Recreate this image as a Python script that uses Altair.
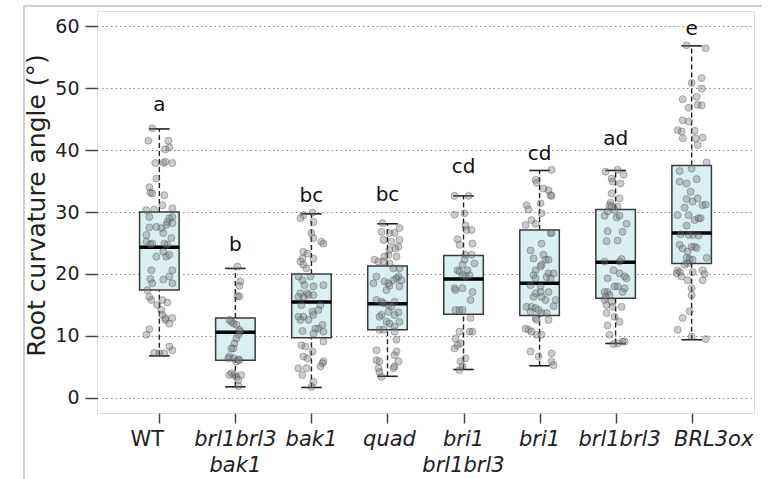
import altair as alt
import pandas as pd

# ---------------- data ----------------
line1 = ["WT", "brl1brl3", "bak1", "quad", "bri1", "bri1", "brl1brl3", "BRL3ox"]
line2 = ["", "bak1", "", "", "brl1brl3", "", "", ""]
italic = [False, True, True, True, True, True, True, True]
label_nudge = [-12, 0, 0, 2, 0, 0, 4, 22]

lower = [6.8, 1.8, 1.7, 3.5, 4.6, 5.2, 8.8, 9.4]
q1 = [17.4, 6.1, 9.7, 11.0, 13.5, 13.3, 16.1, 21.7]
median = [24.3, 10.6, 15.5, 15.2, 19.2, 18.5, 21.9, 26.6]
q3 = [30.0, 12.9, 20.0, 21.3, 23.0, 27.1, 30.4, 37.5]
upper = [43.4, 20.9, 29.7, 28.1, 32.6, 36.7, 36.7, 56.8]

letters = ["a", "b", "bc", "bc", "cd", "cd", "ad", "e"]
letter_y = [47.3, 24.7, 32.6, 32.7, 37.3, 39.4, 41.7, 59.5]

# jittered observations: (horizontal jitter in px, value)
pts_wt = [(-7, 43.5), (-11, 41.5), (9, 41.5), (6, 40.1), (10, 40.4), (-4, 37.9), (4, 37.9), (6, 38.1),
          (13, 37.9), (-3, 35.4), (-10, 34.0), (-9, 33.1), (-7, 33.0), (5, 32.7), (3, 31.1), (-13, 30.3),
          (-5, 30.4), (13, 30.6), (-10, 29.2), (10, 29.0), (13, 29.2), (8, 28.4), (7, 27.9), (-3, 27.6),
          (2, 27.4), (-10, 27.5), (-13, 26.3), (4, 26.6), (13, 28.2), (12, 25.8), (-13, 25.2), (-7, 24.9),
          (5, 24.9), (8, 24.7), (-9, 24.8), (-3, 22.8), (4, 23.6), (7, 22.8), (10, 23.1), (13, 20.6),
          (-8, 20.6), (4, 19.1), (-9, 19.2), (-7, 18.5), (10, 19.6), (13, 18.5), (-12, 17.4), (-10, 16.3),
          (-8, 15.8), (3, 15.8), (8, 15.4), (-2, 15.0), (2, 14.2), (3, 13.4), (6, 12.6), (6, 12.9),
          (13, 12.9), (10, 12.0), (-10, 11.1), (-13, 10.2), (10, 8.3), (13, 7.7), (-5, 7.3), (5, 7.2), (0, 7.2)]
pts_bbb = [(2, 21.2), (5, 18.8), (4, 18.1), (2, 16.4), (4, 16.4), (-6, 12.6), (-4, 12.3), (-2, 12.0),
           (1, 11.8), (4, 11.0), (5, 10.7), (3, 10.2), (1, 9.6), (-1, 8.8), (-2, 8.0), (-4, 8.0), (-6, 6.7),
           (-7, 6.4), (-2, 6.4), (3, 6.2), (4, 6.1), (1, 5.9), (-4, 4.0), (-6, 3.7), (-1, 3.7), (1, 3.4),
           (6, 3.7), (3, 2.9), (3, 1.9)]
pts_bak1 = [(-8, 29.5), (1, 29.9), (-11, 29.0), (2, 28.4), (2, 25.8), (0, 26.6), (10, 25.2), (12, 24.9),
            (-8, 23.6), (-4, 23.3), (-9, 22.5), (2, 22.5), (-11, 22.0), (-8, 21.5), (-5, 20.9), (-1, 19.6),
            (-13, 19.6), (-9, 19.0), (-7, 18.2), (2, 18.0), (12, 18.2), (-11, 16.9), (-3, 16.6), (-13, 16.3),
            (-8, 16.3), (-4, 16.9), (2, 16.6), (9, 15.0), (-10, 15.0), (1, 13.9), (-8, 13.1), (-13, 13.1),
            (-11, 12.6), (-3, 12.6), (2, 13.4), (7, 14.2), (11, 11.8), (7, 11.2), (4, 11.2), (12, 10.7),
            (-9, 10.8), (2, 10.4), (12, 9.1), (-10, 8.5), (-6, 8.3), (1, 7.5), (-8, 6.7), (-4, 6.4), (12, 5.9),
            (11, 5.6), (-13, 4.8), (-5, 4.8), (9, 5.1), (-9, 3.7), (2, 2.6), (0, 1.8)]
pts_quad = [(-5, 28.2), (12, 27.4), (-6, 26.8), (2, 26.6), (7, 26.6), (-4, 25.5), (4, 25.2), (12, 25.5),
            (8, 24.1), (11, 24.4), (2, 23.9), (1, 23.1), (-3, 22.8), (9, 22.8), (-13, 22.3), (-9, 22.0),
            (-4, 22.0), (2, 21.7), (6, 20.9), (12, 20.9), (-11, 19.6), (11, 19.6), (9, 19.3), (6, 19.0),
            (14, 19.0), (-3, 18.8), (1, 18.5), (2, 18.1), (-14, 18.5), (-1, 17.4), (12, 18.0), (-11, 15.8),
            (-6, 15.5), (-4, 15.3), (1, 15.0), (4, 14.7), (7, 15.5), (-6, 13.4), (1, 13.9), (11, 13.8),
            (7, 13.4), (-8, 13.1), (-1, 12.3), (2, 12.0), (12, 12.3), (7, 11.5), (-8, 11.0), (-4, 11.0),
            (7, 10.7), (9, 9.4), (-11, 7.7), (9, 7.5), (7, 6.9), (-11, 6.1), (-8, 5.9), (11, 5.9), (7, 5.1),
            (-9, 4.8), (-8, 4.2), (-6, 3.4), (6, 4.8)]
pts_bri1bb = [(-9, 32.6), (5, 32.6), (1, 29.8), (-9, 29.6), (2, 27.8), (3, 27.1), (8, 27.1), (-6, 25.6),
              (-4, 24.7), (9, 24.9), (2, 23.1), (8, 23.1), (1, 22.3), (-1, 21.5), (11, 21.7), (-6, 20.6),
              (-4, 20.4), (4, 20.6), (-1, 19.8), (2, 19.6), (6, 19.8), (-9, 17.7), (-8, 17.4), (-1, 17.7),
              (9, 17.1), (7, 15.8), (-8, 14.2), (-4, 14.2), (-1, 14.2), (7, 12.9), (-4, 10.7), (6, 10.7),
              (9, 10.7), (-8, 9.6), (-3, 8.8), (-9, 8.0), (-6, 8.5), (2, 6.4), (-3, 5.9), (-1, 5.1), (-4, 4.5)]
pts_bri1 = [(12, 36.8), (-4, 35.2), (-3, 34.7), (4, 33.8), (9, 33.5), (11, 32.7), (12, 32.6), (1, 31.4),
            (-13, 31.1), (-11, 30.4), (2, 29.8), (-8, 28.7), (-4, 28.1), (-14, 27.9), (11, 26.6), (12, 26.6),
            (2, 24.9), (-9, 23.8), (4, 23.1), (-6, 22.5), (6, 22.3), (9, 22.3), (2, 21.5), (1, 21.2),
            (-4, 20.6), (9, 20.1), (14, 20.1), (-6, 19.8), (7, 19.5), (11, 19.3), (-4, 19.3), (-9, 18.2),
            (1, 18.0), (-4, 16.9), (1, 17.1), (-6, 16.3), (2, 16.3), (6, 15.8), (9, 17.1), (16, 15.8),
            (14, 14.8), (-13, 14.7), (-8, 14.7), (-4, 14.5), (-1, 14.2), (-9, 13.9), (2, 13.7), (-4, 12.9),
            (7, 13.7), (-3, 12.6), (9, 12.6), (-14, 11.2), (-11, 11.0), (-8, 10.7), (-3, 10.2), (2, 10.2),
            (-9, 7.5), (12, 7.2), (-1, 6.7), (12, 5.9), (14, 5.3)]
pts_bb = [(-10, 36.5), (2, 36.8), (8, 36.0), (-4, 35.4), (-3, 34.9), (5, 34.6), (-4, 33.0), (4, 32.2),
          (-5, 31.5), (-6, 31.1), (-4, 30.9), (2, 30.9), (-1, 30.3), (-11, 29.4), (-8, 30.1), (1, 29.1),
          (4, 29.4), (11, 28.1), (-8, 26.9), (7, 26.8), (-9, 25.3), (2, 25.4), (6, 22.4), (4, 22.0),
          (-11, 22.0), (-8, 19.3), (-2, 20.6), (4, 20.1), (9, 19.6), (11, 19.3), (2, 18.0), (-1, 18.0),
          (9, 17.7), (-11, 17.1), (-8, 17.1), (-6, 16.6), (-10, 16.3), (7, 17.1), (-11, 15.8), (-4, 15.5),
          (-9, 15.0), (-3, 14.7), (6, 14.7), (-9, 13.7), (-1, 13.1), (4, 12.3), (-8, 11.7), (-6, 10.2),
          (7, 9.1), (9, 9.1), (2, 8.8), (-2, 8.7)]
pts_ox = [(14, 56.4), (-5, 56.9), (0, 50.8), (10, 51.6), (10, 49.9), (5, 48.6), (-9, 48.2), (6, 47.3),
          (10, 47.2), (-3, 46.8), (-9, 44.8), (-3, 44.6), (-14, 43.2), (-10, 43.0), (3, 43.1), (-9, 41.9),
          (4, 41.9), (11, 42.0), (6, 40.8), (15, 38.0), (0, 37.0), (-12, 36.6), (5, 35.3), (-12, 34.9),
          (-5, 34.6), (-1, 33.3), (-5, 32.1), (1, 31.7), (6, 32.2), (11, 31.1), (14, 31.2), (-7, 30.7),
          (-14, 29.5), (-3, 29.5), (3, 28.7), (7, 29.0), (9, 29.0), (-5, 27.8), (-11, 26.4), (1, 26.3),
          (7, 26.2), (-3, 26.3), (-12, 24.7), (-9, 24.1), (0, 24.4), (3, 24.4), (5, 24.2), (-4, 23.6),
          (-5, 22.6), (-2, 22.4), (1, 22.3), (15, 22.6), (-4, 21.7), (-7, 21.5), (-14, 20.6), (-12, 20.3),
          (-15, 20.1), (-10, 19.6), (1, 20.3), (11, 20.6), (13, 20.0), (11, 19.0), (-4, 19.0), (0, 17.7),
          (0, 16.6), (-2, 14.0), (-9, 12.9), (-14, 11.0), (14, 9.5), (0, 9.9)]

all_pts = [pts_wt, pts_bbb, pts_bak1, pts_quad, pts_bri1bb, pts_bri1, pts_bb, pts_ox]

# ---------------- tables ----------------
PX_PER_UNIT = 76.0
BOX_HALF = 0.26
CAP_HALF = 0.135

pos = list(range(1, 9))
stats = pd.DataFrame({
    "x": pos, "lower": lower, "q1": q1, "median": median, "q3": q3, "upper": upper,
    "letter": letters, "ly": letter_y,
    "l1": line1, "l2": line2, "italic": italic, "nudge": label_nudge,
})
stats["bl"] = stats["x"] - BOX_HALF
stats["br"] = stats["x"] + BOX_HALF
stats["cl"] = stats["x"] - CAP_HALF
stats["cr"] = stats["x"] + CAP_HALF
stats["lx"] = stats["x"] + stats["nudge"] / PX_PER_UNIT

rows = []
for i, pts in enumerate(all_pts):
    for dx, v in pts:
        rows.append({"px": i + 1 + dx / PX_PER_UNIT, "v": v})
points = pd.DataFrame(rows)

# ---------------- encodings ----------------
FONT = "DejaVu Sans"
xscale = alt.Scale(domain=[0.18, 8.82], nice=False, zero=False)
yscale = alt.Scale(domain=[-2.42, 62.42], nice=False, zero=False)
xaxis = alt.Axis(values=pos, labels=False, title="", grid=False, domain=False,
                 tickSize=10, tickColor="#444", tickWidth=1.5)
yaxis = alt.Axis(values=[0, 10, 20, 30, 40, 50, 60], title="Root curvature angle (°)",
                 grid=True, gridDash=[1.5, 3], gridColor="#888", gridWidth=1,
                 domain=False, tickSize=12, tickColor="#444", tickWidth=1.5,
                 labelFont=FONT, labelFontSize=19, labelColor="#222", labelPadding=6,
                 titleFont=FONT, titleFontSize=25, titleFontWeight="normal", titleColor="#222",
                 titleX=-61, titleY=194, titleAngle=270, titleBaseline="middle", titleAlign="center")


def X(f):
    return alt.X(f, type="quantitative", scale=xscale, axis=xaxis)


def Y(f):
    return alt.Y(f, type="quantitative", scale=yscale, axis=yaxis)


base = alt.Chart(stats)

whisk_up = base.mark_rule(color="#222", strokeWidth=1.4, strokeDash=[5, 3]).encode(
    x=X("x"), y=Y("q3"), y2="upper")
whisk_lo = base.mark_rule(color="#222", strokeWidth=1.4, strokeDash=[5, 3]).encode(
    x=X("x"), y=Y("lower"), y2="q1")
cap_up = base.mark_rule(color="#222", strokeWidth=1.6).encode(x=X("cl"), x2="cr", y=Y("upper"))
cap_lo = base.mark_rule(color="#222", strokeWidth=1.6).encode(x=X("cl"), x2="cr", y=Y("lower"))
box = base.mark_rect(fill="#d9eff1", stroke="#3a3a3a", strokeWidth=1.5).encode(
    x=X("bl"), x2="br", y=Y("q1"), y2="q3")
med = base.mark_rule(color="#000", strokeWidth=3.5).encode(x=X("bl"), x2="br", y=Y("median"))

dots = alt.Chart(points).mark_circle(size=50, fill="#7a7a7a", fillOpacity=0.38,
                                     stroke="#444", strokeOpacity=0.45, strokeWidth=0.8).encode(
    x=X("px"), y=Y("v"))

lett = base.mark_text(font=FONT, fontSize=20, color="#111", baseline="middle").encode(
    x=X("x"), y=Y("ly"), text="letter")

lab_norm = base.transform_filter("!datum.italic").mark_text(
    font=FONT, fontSize=21, color="#222", baseline="middle").encode(
    x=X("lx"), y=alt.value(429), text="l1")
lab_it1 = base.transform_filter("datum.italic").mark_text(
    font=FONT, fontSize=21, fontStyle="italic", color="#222", baseline="middle").encode(
    x=X("lx"), y=alt.value(429), text="l1")
lab_it2 = base.transform_filter("datum.italic && datum.l2 != ''").mark_text(
    font=FONT, fontSize=21, fontStyle="italic", color="#222", baseline="middle").encode(
    x=X("lx"), y=alt.value(455), text="l2")

frame_left = base.mark_rule(color="#cfcfcf", strokeWidth=1).encode(
    x=alt.value(-73), y=alt.value(-5), y2=alt.value(470))
frame_top = base.mark_rule(color="#cfcfcf", strokeWidth=1).encode(
    x=alt.value(-73), x2=alt.value(665), y=alt.value(-5))

chart = alt.layer(
    frame_left, frame_top,
    whisk_up, whisk_lo, cap_up, cap_lo, box, med, dots, lett,
    lab_norm, lab_it1, lab_it2,
).properties(
    width=657, height=402,
    autosize=alt.AutoSizeParams(type="none"),
    padding={"left": 97, "top": 11, "right": 28, "bottom": 66},
).configure_view(
    stroke="#444", strokeWidth=1.5
).configure(background="white")

chart.save("out.html", embed_options={"renderer": "svg", "actions": False})
